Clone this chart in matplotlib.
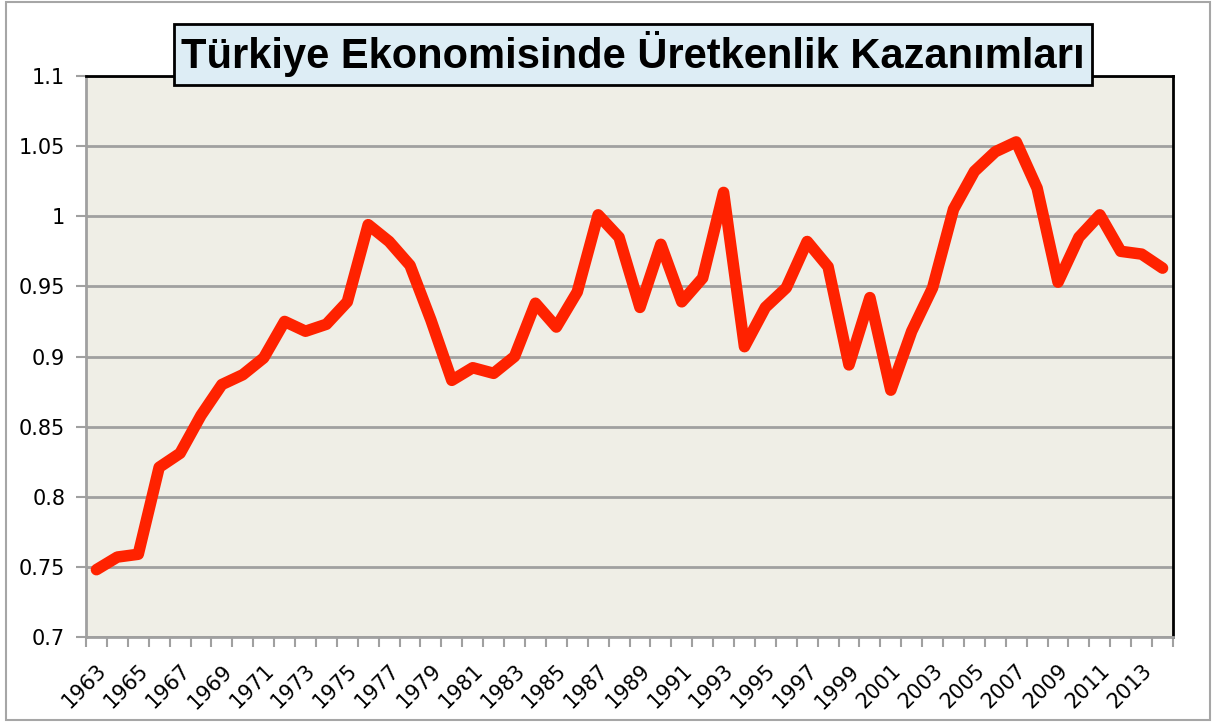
import numpy as np
import matplotlib
matplotlib.use('Agg')
import matplotlib.pyplot as plt
from matplotlib.patches import Rectangle
from matplotlib.transforms import ScaledTranslation

# Yearly productivity gain index
years = list(range(1963, 2015))
values = [
    0.748, 0.757, 0.759, 0.821, 0.831, 0.858, 0.880, 0.887, 0.899, 0.925,
    0.918, 0.923, 0.939, 0.994, 0.982, 0.965, 0.926, 0.883, 0.892, 0.888,
    0.900, 0.938, 0.921, 0.946, 1.001, 0.985, 0.935, 0.980, 0.939, 0.956,
    1.017, 0.907, 0.935, 0.949, 0.982, 0.964, 0.894, 0.942, 0.876, 0.918,
    0.949, 1.005, 1.032, 1.046, 1.053, 1.020, 0.953, 0.985, 1.001, 0.975,
    0.973, 0.963,
]
y_ticks = [0.7, 0.75, 0.8, 0.85, 0.9, 0.95, 1.0, 1.05, 1.1]
title = 'Türkiye Ekonomisinde Üretkenlik Kazanımları'

plt.rcParams['font.family'] = ['DejaVu Sans']

fig = plt.figure(figsize=(12.13, 7.22), dpi=100)
fig.patch.set_facecolor('white')

# outer chart border
fig.patches.append(Rectangle((6 / 1213, 2 / 722), 1204 / 1213, 718 / 722,
                             transform=fig.transFigure, fill=False,
                             edgecolor='#A6A6A6', linewidth=1.5))

ax = fig.add_axes([86 / 1213, 1 - 637 / 722, 1087 / 1213, 561 / 722])
ax.set_facecolor('#EFEEE6')

x = np.arange(len(years))
ax.plot(x, values, color='#FF2200', linewidth=8.3,
        solid_joinstyle='round', solid_capstyle='round', zorder=3)

ax.set_xlim(-0.5, len(years) - 0.5)
ax.set_ylim(0.7, 1.1)

# y axis
ax.set_yticks(y_ticks)
ax.set_yticklabels([f'{v:g}' for v in y_ticks])
ax.yaxis.grid(True, color='#A0A0A0', linewidth=2)
ax.set_axisbelow(True)
ax.tick_params(axis='y', direction='out', length=7, width=1.5,
               color='#A0A0A0', pad=8, labelsize=15)

# x axis: tick marks between categories, labels every second year
ax.set_xticks(np.arange(-0.5, len(years), 1))
ax.set_xticklabels([])
ax.tick_params(axis='x', which='major', direction='out', length=7,
               width=1.5, color='#A0A0A0')
ax.set_xticks(x[::2], minor=True)
ax.set_xticklabels([str(y) for y in years[::2]], minor=True,
                   rotation=45, ha='right', va='center',
                   rotation_mode='anchor')
ax.tick_params(axis='x', which='minor', length=0, pad=22, labelsize=15)
shift = ScaledTranslation(7 / 100, 0, fig.dpi_scale_trans)
for lab in ax.get_xticklabels(minor=True):
    lab.set_transform(lab.get_transform() + shift)

for side in ['left', 'bottom']:
    ax.spines[side].set_color('#A0A0A0')
    ax.spines[side].set_linewidth(2)
for side in ['top', 'right']:
    ax.spines[side].set_color('black')
    ax.spines[side].set_linewidth(2)

fig.text(633 / 1213, 1 - 54 / 722, title, ha='center', va='center',
         fontsize=30, fontweight='bold', family='Liberation Sans',
         bbox=dict(boxstyle='square,pad=0.18', facecolor='#DDEDF5',
                   edgecolor='black', linewidth=2))

fig.savefig('out.png', dpi=100)
